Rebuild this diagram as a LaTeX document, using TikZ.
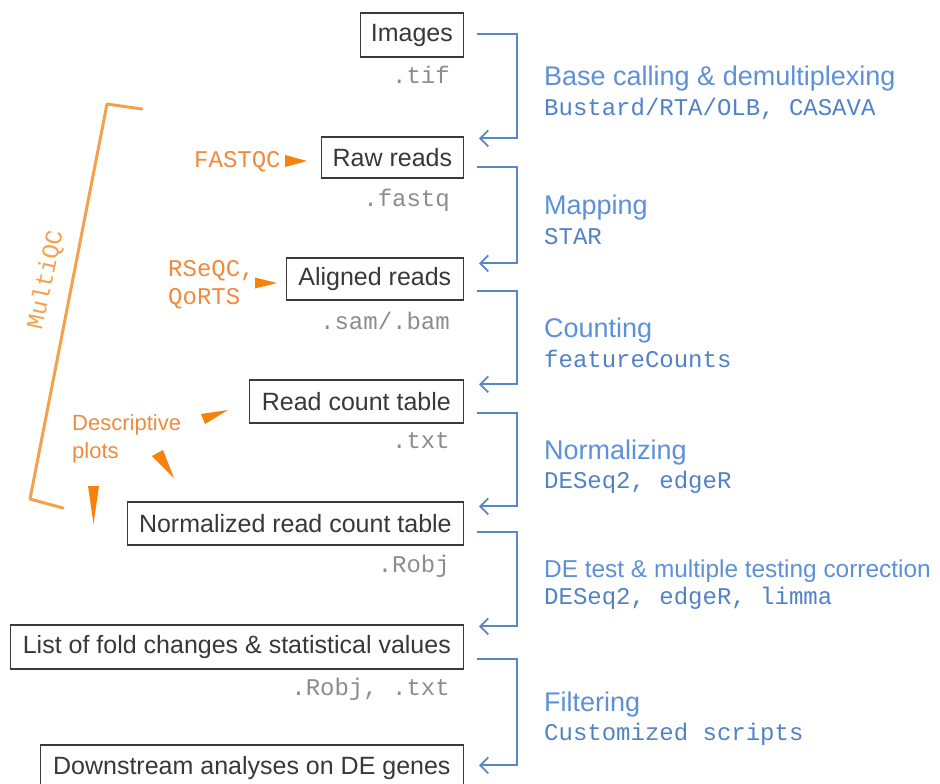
\documentclass[tikz,border=0pt]{standalone}
\usepackage{fontspec}
\setmainfont{Liberation Sans}
\newfontfamily\monof{Liberation Mono}
\usetikzlibrary{arrows.meta}
\definecolor{boxline}{HTML}{3A3A3A}
\definecolor{grayt}{HTML}{8C8C8C}
\definecolor{bluehead}{HTML}{5C90D8}
\definecolor{bluemono}{HTML}{5282C6}
\definecolor{blueline}{HTML}{5B86C4}
\definecolor{orarrow}{HTML}{F5820D}
\definecolor{ortext}{HTML}{F08A3C}
\definecolor{orbracket}{HTML}{F5A04A}
\tikzset{
  databox/.style={draw=boxline, line width=1.3pt, anchor=east, inner sep=0pt,
    text=black!78, font=\fontsize{25}{30}\selectfont},
  ext/.style={anchor=base east, inner sep=0pt, text=grayt, font=\monof\fontsize{24}{28}\selectfont},
  stephead/.style={anchor=base west, inner sep=0pt, text=bluehead, font=\fontsize{27}{32}\selectfont},
  tool/.style={anchor=base west, inner sep=0pt, text=bluemono, font=\monof\fontsize{24}{28}\selectfont},
  qc/.style={inner sep=0pt, text=ortext, font=\monof\fontsize{24}{28}\selectfont},
  flow/.style={draw=blueline, line width=1.8pt, -{Straight Barb[length=8pt,width=16pt,line width=1.8pt]}},
  ohead/.style={fill=orarrow, draw=none},
}
\begin{document}
\begin{tikzpicture}[x=1pt,y=-1pt]
\useasboundingbox (0,0) rectangle (940,784);
% data boxes
\node[databox, minimum width=103pt, minimum height=44pt] (img) at (464,35) {Images};
\node[databox, minimum width=142pt, minimum height=41pt] (raw) at (464,157.5) {Raw reads};
\node[databox, minimum width=177pt, minimum height=42pt] (ali) at (464,279) {Aligned reads};
\node[databox, minimum width=214pt, minimum height=43pt] (rct) at (464,401.5) {Read count table};
\node[databox, minimum width=336pt, minimum height=43pt] (nrm) at (464,523.5) {Normalized read count table};
\node[databox, minimum width=453pt, minimum height=44pt] (lst) at (464,647) {List of fold changes \& statistical values};
\node[databox, minimum width=423pt, minimum height=46pt] (dwn) at (464,768) {Downstream analyses on DE genes};
% file extensions
\node[ext] (e1) at (450,84) {.tif};
\node[ext] (e2) at (450,206) {.fastq};
\node[ext] (e3) at (450,329) {.sam/.bam};
\node[ext] (e4) at (450,448) {.txt};
\node[ext] (e5) at (450,572) {.Robj};
\node[ext] (e6) at (450,695) {.Robj, .txt};
% steps
\node[stephead] (s1) at (544,85) {Base calling \& demultiplexing};
\node[tool] (t1) at (544,115) {Bustard/RTA/OLB, CASAVA};
\node[stephead] (s2) at (544,214) {Mapping};
\node[tool] (t2) at (544,244) {STAR};
\node[stephead] (s3) at (544,337) {Counting};
\node[tool] (t3) at (544,367) {featureCounts};
\node[stephead] (s4) at (544,459) {Normalizing};
\node[tool] (t4) at (544,488) {DESeq2, edgeR};
\node[stephead, font=\fontsize{24.4}{30}\selectfont] (s5) at (544,577) {DE test \& multiple testing correction};
\node[tool] (t5) at (544,604) {DESeq2, edgeR, limma};
\node[stephead] (s6) at (544,711) {Filtering};
\node[tool] (t6) at (544,740) {Customized scripts};
% flow connectors
\draw[flow] ([xshift=13pt,yshift=1pt]img.east) -- ++(40,0) |- ([xshift=15pt,yshift=-2pt]raw.north east);
\draw[flow] ([xshift=13pt,yshift=-9.5pt]raw.east) -- ++(40,0) |- ([xshift=15pt,yshift=-6pt]ali.north east);
\draw[flow] ([xshift=13pt,yshift=-12pt]ali.east) -- ++(40,0) |- ([xshift=15pt,yshift=-5pt]rct.north east);
\draw[flow] ([xshift=13pt,yshift=-11.5pt]rct.east) -- ++(40,0) |- ([xshift=15pt,yshift=-5pt]nrm.north east);
\draw[flow] ([xshift=13pt,yshift=-8.5pt]nrm.east) -- ++(40,0) |- ([xshift=15pt,yshift=-2pt]lst.north east);
\draw[flow] ([xshift=13pt,yshift=-12pt]lst.east) -- ++(40,0) |- ([xshift=15pt,yshift=-21pt]dwn.north east);
% QC tools
\node[qc, anchor=base west] (fq) at (194,167) {FASTQC};
\node[qc, anchor=base west, align=left] (rq) at (168,304) {RSeQC,\\QoRTS};
\node[inner sep=0pt, text=ortext, font=\fontsize{22}{28}\selectfont, anchor=base west, align=left] (dp) at (72,458) {Descriptive\\plots};
\node[qc, text=orbracket, rotate=78] (mq) at (46,280) {MultiQC};
% orange arrowheads
\fill[ohead] (285,155) -- (307,161) -- (285,167) -- cycle;
\fill[ohead] (255,277.5) -- (277,283) -- (255,288.5) -- cycle;
\fill[ohead] (228,410) -- (201,414) -- (205,424) -- cycle;
\fill[ohead] (174,478) -- (152,456) -- (163,450) -- cycle;
\fill[ohead] (93.5,524) -- (88,486) -- (99,486) -- cycle;
% MultiQC bracket
\draw[orbracket, line width=3pt, line join=round, line cap=round] (142,109) -- (107,104) -- (30,499) -- (63,508);
\end{tikzpicture}
\end{document}
